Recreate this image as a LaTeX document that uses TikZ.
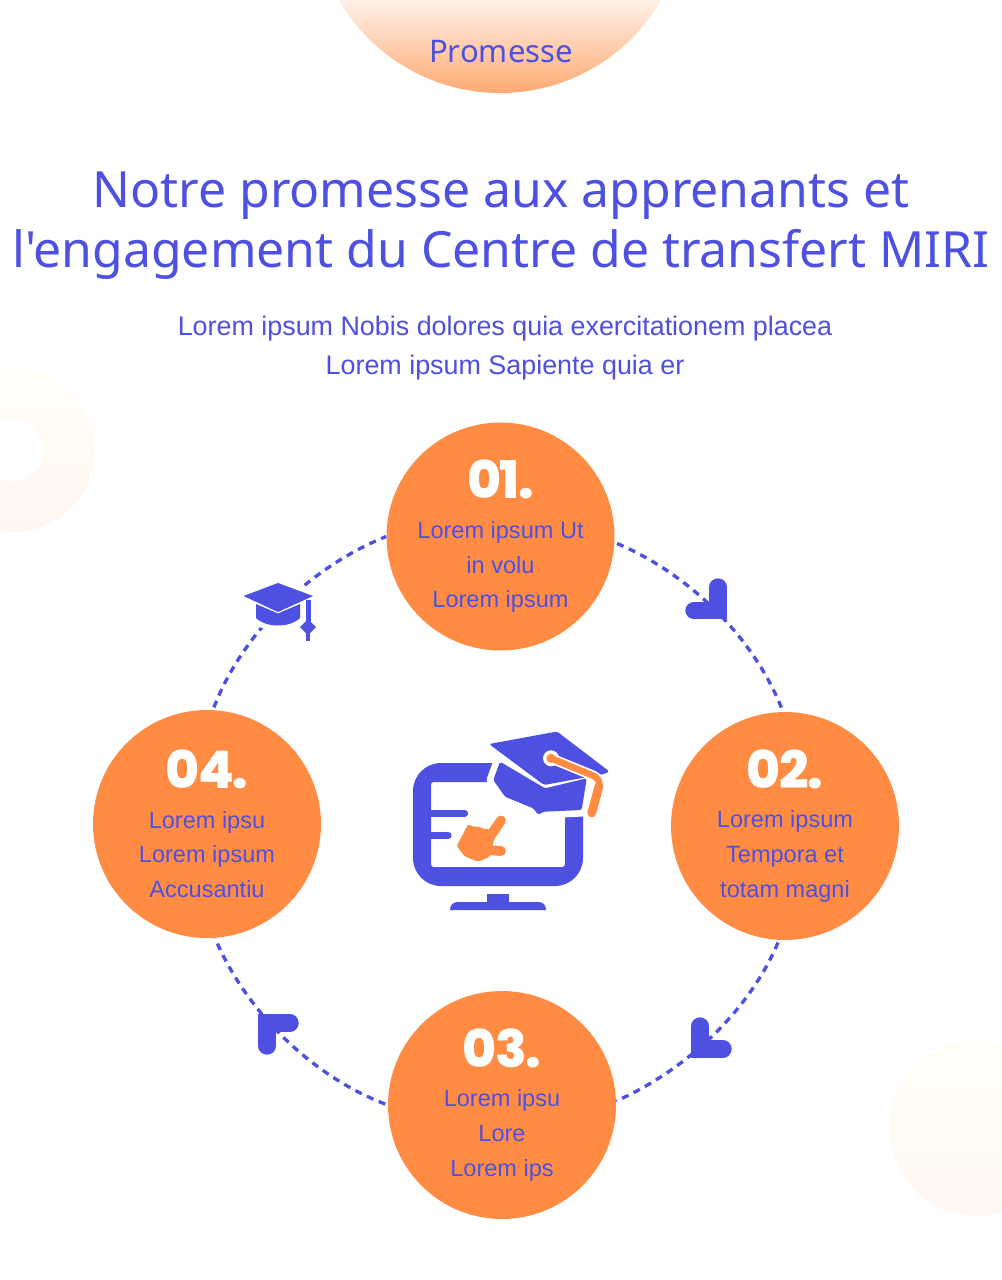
\documentclass[tikz,border=0pt]{standalone}
\usepackage{fontspec}
\usepackage{xcolor}
\setmainfont{Noto Sans}
\newfontfamily\headfont{Noto Sans}
\newfontfamily\bodyfont{Liberation Sans}
\newfontfamily\numfont[LetterSpace=-3]{Poppins ExtraBold}
\usetikzlibrary{positioning}
\definecolor{miriblue}{HTML}{4D50E0}
\definecolor{miriorange}{HTML}{FF8C42}
\tikzset{
  stepcirc/.style={circle, fill=miriorange, minimum size=4.56cm, inner sep=0pt, align=center, text=miriblue, font=\bodyfont\fontsize{13.4}{19.84}\selectfont},
  ringline/.style={draw=miriblue, line width=1.9pt, dash pattern=on 4pt off 3.3pt, shorten <=1.5pt},
  turnmark/.style={draw=miriblue, line width=9.9pt, line cap=round, line join=miter},
  iconfill/.style={fill=miriblue},
  handfill/.style={fill=miriorange, rounded corners=1.2pt},
  handline/.style={draw=miriorange, line width=5.6pt, line cap=round},
}
\newcommand{\stepnum}[1]{\raisebox{.6pt}{\color{white}\numfont\fontsize{29.5}{30}\selectfont #1}\\[2pt]}
\begin{document}
\begin{tikzpicture}[x=0.02cm, y=-0.02cm]
  \useasboundingbox (0,0) rectangle (1001,1280);
  \fill[white] (0,0) rectangle (1001,1280);

  % Background blobs
  \path[top color=orange!4!yellow!3!white, bottom color=miriorange!8!white, even odd rule] (13,450) circle[radius=82] (13,450) circle[radius=31];
  \path[top color=miriorange!8!yellow!4!white, bottom color=miriorange!7!white] (978,1128) circle[radius=88];

  % Top tab
  \shade[top color=miriorange!12!white, bottom color=miriorange!92!white] (339,0) arc[start angle=150, end angle=30, radius=186] -- cycle;
  \node[font=\headfont\fontsize{17.7}{20}\selectfont, text=miriblue] (tab) at (501,52) {Promesse};

  % Heading
  \node[align=center, text=miriblue, font=\headfont\fontsize{28.4}{34}\selectfont] (heading) at (501,226) {Notre promesse aux apprenants et\\l'engagement du Centre de transfert MIRI};
  \node[align=center, text=miriblue, font=\bodyfont\fontsize{15.3}{22.2}\selectfont] (sub) at (505,348) {Lorem ipsum Nobis dolores quia exercitationem placea\\Lorem ipsum Sapiente quia er};

  % Steps
  \node[stepcirc] (step1) at (500.5,536.5) {\stepnum{01.}Lorem ipsum Ut\\in volu\\Lorem ipsum};
  \node[stepcirc] (step2) at (785,826) {\stepnum{02.}Lorem ipsum\\Tempora et\\totam magni};
  \node[stepcirc] (step3) at (502,1105) {\stepnum{03.}Lorem ipsu\\Lore\\Lorem ips};
  \node[stepcirc] (step4) at (207,824) {\stepnum{04.}Lorem ipsu\\Lorem ipsum\\Accusantiu};

  % Ring
  \draw[ringline] (step1.-3) to[out=-23, in=111, looseness=.86] (step2.91);
  \draw[ringline] (step2.-93) to[out=-113, in=24, looseness=.86] (step3.2);
  \draw[ringline] (step3.180) to[out=159, in=-67, looseness=.86] (step4.-86);
  \draw[ringline] (step4.87) to[out=69, in=-158, looseness=.86] (step1.180);

  % Turn marks
  \draw[turnmark] (718,587) -- (718,610.5) -- (694,610.5);
  \draw[turnmark] (700,1026) -- (700,1049) -- (723,1049);
  \draw[turnmark] (267,1046) -- (267,1023) -- (290,1023);

  % Small cap
  \path[fill=white, draw=white, line width=6pt, line join=round] (243.5,596) -- (278,583) -- (313,596) -- (312,640) -- (303,640) -- (300,618) .. controls (290,628) and (266,628) .. (256,618) -- cycle;
  \fill[iconfill] (243.5,596) -- (278,583) -- (313,596) -- (278,612) -- cycle;
  \fill[iconfill] (256,604) -- (278,613.5) -- (300,604) -- (300,618) .. controls (290,628) and (266,628) .. (256,618) -- cycle;
  \fill[iconfill] (305.5,600) rectangle (310.5,622);
  \fill[iconfill] (308,619) -- (316,627) -- (308,635) -- (300,627) -- cycle;
  \fill[iconfill] (306.2,633) rectangle (309.8,641);

  % Monitor
  \fill[iconfill, even odd rule] (413,791) arc[start angle=180, end angle=270, radius=28] -- (555,763) arc[start angle=270, end angle=360, radius=28] -- (583,858) arc[start angle=0, end angle=90, radius=28] -- (441,886) arc[start angle=90, end angle=180, radius=28] -- cycle
    [rounded corners=1.5pt] (431,782) rectangle (565,867);
  \draw[miriblue, line width=4.1pt, line cap=round] (431,813.5) -- (464.5,813.5);
  \draw[miriblue, line width=4.1pt, line cap=round] (431,835.5) -- (448,835.5);
  \fill[iconfill] (487,894) rectangle (509,902);
  \fill[iconfill] (450,910) .. controls (450,905) and (453,902) .. (458,902) -- (538,902) .. controls (543,902) and (546,905) .. (546,910) -- cycle;

  % Hand
  \fill[handfill] (468.3,824) -- (474,827.3) -- (478.3,826) -- (483.3,829.3) -- (488.3,828.3) -- (495,835) -- (490,856.7) -- (478.3,861.7) -- (465,856.7) -- (456.7,846) -- cycle;
  \draw[handline] (489,838) -- (501,820.5);
  \draw[handline] (488,850) -- (501,851);

  % Big cap
  \path[fill=white, draw=white, line width=7.5pt, line join=round] (500,761.7) -- (493.3,780) -- (505,796.7) .. controls (520,803) .. (533.3,808.3) -- (538.3,815) -- (543.3,811.7) -- (581.7,810) -- (586.7,778.3) -- (545,788.3) -- cycle;
  \fill[iconfill, rounded corners=1pt] (500,761.7) -- (493.3,780) -- (505,796.7) .. controls (520,803) .. (533.3,808.3) -- (538.3,815) -- (543.3,811.7) -- (581.7,810) -- (586.7,778.3) -- (545,788.3) -- cycle;
  \fill[iconfill, rounded corners=1pt] (489,744) -- (557,731.5) -- (609.5,771.5) -- (604,774) -- (544,785) -- cycle;
  \draw[white, line width=5.8pt, line cap=round, line join=round] (551,758.3) -- (591.7,775) .. controls (599,778) and (600,782) .. (599,788) -- (591.7,813);
  \fill[white] (551,758.3) circle[radius=8];
  \draw[miriorange, line width=3.8pt, line join=round] (551,758.3) -- (591.7,775) .. controls (599,778) and (600,782) .. (599,788);
  \draw[miriorange, line width=5pt, line cap=round] (599,786) -- (591.7,813);
  \fill[miriorange] (551,758.3) circle[radius=4.6];
\end{tikzpicture}
\end{document}
